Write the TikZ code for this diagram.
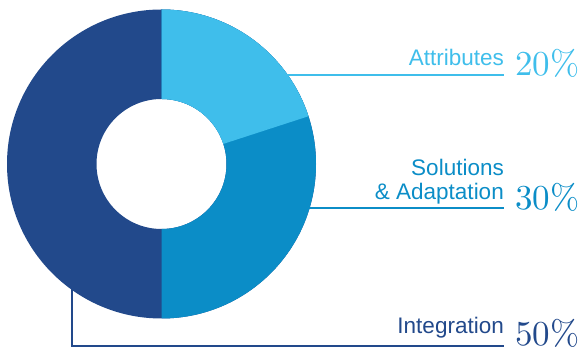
\documentclass[tikz,border=0pt]{standalone}
\usepackage{fontspec}
\newfontfamily\labfont{Liberation Sans}
\newfontfamily\pctfont{lmroman10-regular}[Extension=.otf]
\usetikzlibrary{calc}
\definecolor{cLight}{HTML}{3FBEEB}
\definecolor{cMid}{HTML}{0B8DC7}
\definecolor{cDark}{HTML}{22498B}
\begin{document}
\begin{tikzpicture}[x=1pt,y=1pt,
  lab/.style={font=\labfont\fontsize{22.5}{24}\selectfont, inner sep=0pt},
  pct/.style={font=\pctfont\fontsize{35}{40}\selectfont, inner sep=0pt},
  lead/.style={line width=2pt}]
\useasboundingbox (0,0) rectangle (587,352);
\coordinate (c) at (161.5,188);
\def\Ro{154.5}\def\Ri{65}
% ring
\fill[cDark, even odd rule] (c) circle[radius=\Ro] (c) circle[radius=\Ri];
\fill[cMid] ($(c)+(90:\Ro)$) arc[start angle=90,end angle=-90,radius=\Ro]
  -- ($(c)+(-90:\Ri)$) arc[start angle=-90,end angle=90,radius=\Ri] -- cycle;
\fill[cLight] ($(c)+(90:\Ro)$) arc[start angle=90,end angle=18,radius=\Ro]
  -- ($(c)+(18:\Ri)$) arc[start angle=18,end angle=90,radius=\Ri] -- cycle;
% labels
\node[lab, text=cLight, anchor=base east] (attr) at (504,286) {Attributes};
\node[pct, text=cLight, anchor=base west] (attrp) at (515,276.5) {20\%};
\node[lab, text=cMid, anchor=base east, align=right] (sol) at (504,152) {Solutions\\\& Adaptation};
\node[pct, text=cMid, anchor=base west] (solp) at (515,142) {30\%};
\node[lab, text=cDark, anchor=base east] (int) at (504,18) {Integration};
\node[pct, text=cDark, anchor=base west] (intp) at (515,6) {50\%};
% leader lines
\coordinate (attrS) at ($(c)+(35.5:153)$);
\coordinate (solS) at ($(c)+(-16.9:153)$);
\coordinate (intS) at ($(c)+(234.1:153)$);
\coordinate (intE) at (504,5.5);
\draw[lead, cLight] (attrS) -- (attrS -| attr.east);
\draw[lead, cMid] (solS) -- (solS -| sol.east);
\draw[lead, cDark] (intS) |- (intE);
\end{tikzpicture}
\end{document}
